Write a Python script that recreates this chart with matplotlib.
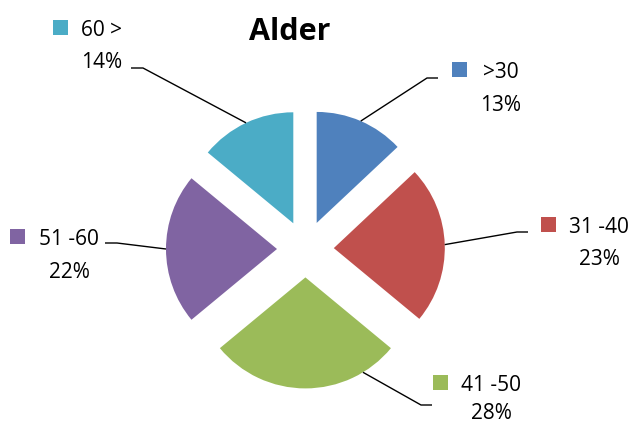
import numpy as np
import matplotlib
matplotlib.use('Agg')
import matplotlib.pyplot as plt
from matplotlib.patches import Rectangle

# age groups and share of respondents (%)
categories = ['>30', '31 -40', '41 -50', '51 -60', '60 >']
values = [13, 23, 28, 22, 14]
colors = ['#4F81BD', '#C0504D', '#9BBB59', '#8064A2', '#4BACC6']

W, H = 629, 424
plt.rcParams['font.family'] = ['Open Sans', 'DejaVu Sans']

fig = plt.figure(figsize=(W / 100, H / 100), dpi=100)
ax = fig.add_axes([0, 0, 1, 1])

# pie geometry in pixel units (y measured from bottom)
cx, cy = 305.4, H - 249
r = 111
expl = 28.4

wedges, _ = ax.pie(values, colors=colors, startangle=90, counterclock=False,
                   radius=r, center=(cx, cy), explode=[expl] * len(values),
                   frame=True, wedgeprops=dict(linewidth=0))
ax.set_xlim(0, W)
ax.set_ylim(0, H)
ax.set_aspect('equal')
ax.axis('off')

# label layout: key square left, text left, baseline of first / second line
# (pixel coords measured from top), elbow start, elbow end, where on arc
layout = [
    (452, 483, 78, 111, (427, 78), (438, 78), 0.5),
    (541, 569, 233, 265, (517, 232), (528, 232), 0.5),
    (433, 461, 391, 419, (421, 405), (432, 405), 0.81),
    (10, 39, 245, 278, (117, 243), (105, 243), 0.5),
    (53, 81, 36, 68, (143, 68), (131, 68), 0.5),
]

fs = 15
for w, cat, val, col, lay in zip(wedges, categories, values, colors, layout):
    kx, tx, y1, y2, e1, e2, frac = lay
    # key square
    ax.add_patch(Rectangle((kx, H - y1 + 1), 15, 15, color=col, lw=0))
    t = ax.text(tx, H - y1, cat, fontsize=fs, ha='left', va='baseline',
                color='black')
    fig.canvas.draw()
    bb = t.get_window_extent()
    mid = (bb.x0 + bb.x1) / 2
    ax.text(mid, H - y2, '%d%%' % val, fontsize=fs, ha='center',
            va='baseline', color='black')

    # leader line from wedge edge
    th1, th2 = w.theta1, w.theta2
    th = np.radians(th1 + frac * (th2 - th1))
    wx, wy = w.center
    px = wx + r * np.cos(th)
    py = wy + r * np.sin(th)
    ax.plot([px, e1[0], e2[0]], [py, H - e1[1], H - e2[1]],
            color='black', lw=1.0, solid_capstyle='butt')

ax.text(290, H - 40, 'Alder', fontsize=22, fontweight='bold', ha='center',
        va='baseline', color='black')

fig.savefig('out.png', dpi=100)
